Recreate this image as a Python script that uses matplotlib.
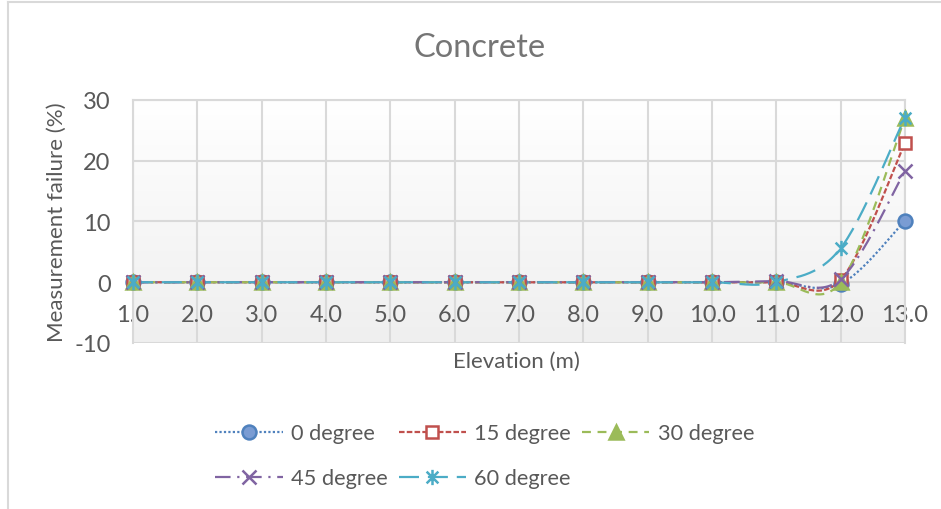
import numpy as np
from matplotlib import pyplot as plt
from matplotlib.path import Path
from matplotlib.lines import Line2D
from matplotlib.colors import LinearSegmentedColormap

elevation = [1.0, 2.0, 3.0, 4.0, 5.0, 6.0, 7.0, 8.0, 9.0, 10.0, 11.0, 12.0, 13.0]
deg0 = [0, 0, 0, 0, 0, 0, 0, 0, 0, 0, 0, -0.3, 10.1]
deg15 = [0, 0, 0, 0, 0, 0, 0, 0, 0, 0, 0, 0.4, 22.9]
deg30 = [0, 0, 0, 0, 0, 0, 0, 0, 0, 0, 0, 0.0, 27.0]
deg45 = [0, 0, 0, 0, 0, 0, 0, 0, 0, 0, 0.2, 0.5, 18.3]
deg60 = [0, 0, 0, 0, 0, 0, 0, 0, 0, 0, 0, 5.6, 27.1]
series_names = ["0 degree", "15 degree", "30 degree", "45 degree", "60 degree"]
x_tick_labels = ["%.1f" % v for v in elevation]
y_ticks = [-10, 0, 10, 20, 30]

TEXT = "#595959"
GRID = "#D9D9D9"


def smooth(x, y, steps=30):
    """excel-like smoothed line: cubic bezier between points"""
    x = np.asarray(x, float)
    y = np.asarray(y, float)
    px = np.concatenate([[x[0]], x, [x[-1]]])
    py = np.concatenate([[y[0]], y, [y[-1]]])
    t = np.linspace(0, 1, steps)[:, None]
    xs, ys = [], []
    for i in range(1, len(px) - 2):
        p0 = np.array([px[i], py[i]])
        p3 = np.array([px[i + 1], py[i + 1]])
        p1 = p0 + (np.array([px[i + 1], py[i + 1]]) - np.array([px[i - 1], py[i - 1]])) / 6
        p2 = p3 - (np.array([px[i + 2], py[i + 2]]) - np.array([px[i], py[i]])) / 6
        b = ((1 - t) ** 3) * p0 + 3 * ((1 - t) ** 2) * t * p1 + 3 * (1 - t) * t ** 2 * p2 + t ** 3 * p3
        xs.append(b[:, 0])
        ys.append(b[:, 1])
    return np.concatenate(xs), np.concatenate(ys)


# asterisk marker: an x with a vertical stroke
star = Path([(-1, -1), (1, 1), (-1, 1), (1, -1), (0, -1.3), (0, 1.3)],
            [Path.MOVETO, Path.LINETO, Path.MOVETO, Path.LINETO, Path.MOVETO, Path.LINETO])

styles = [
    dict(color="#4F81BD", ls=(0, (1, 1)), marker="o", mfc="#7A9CD3", mec="#4F81BD", ms=10),
    dict(color="#C0504D", ls=(0, (2.5, 1)), marker="s", mfc="white", mec="#C0504D", ms=9),
    dict(color="#9BBB59", ls=(0, (4, 3)), marker="^", mfc="#9BBB59", mec="#9BBB59", ms=10),
    dict(color="#8064A2", ls=(0, (7, 3, 1, 3)), marker="x", mfc="none", mec="#8064A2", ms=10),
    dict(color="#4BACC6", ls=(0, (9, 4)), marker=star, mfc="none", mec="#4BACC6", ms=11),
]


def main():
    plt.rcParams["font.family"] = ["Lato", "DejaVu Sans"]
    fig = plt.figure(figsize=(9.41, 5.10), dpi=100)
    ax = fig.add_axes([0.1413, 0.3255, 0.8204, 0.4765])

    # soft white-to-grey fill of the plot area
    grad = np.linspace(1.0, 0.0, 256)[:, None]
    ax.imshow(grad, extent=[0, 1, 0, 1], transform=ax.transAxes, aspect="auto",
              cmap=LinearSegmentedColormap.from_list("bg", ["#EFEFEF", "#FFFFFF"]), zorder=0)

    handles = []
    for vals, name, st in zip([deg0, deg15, deg30, deg45, deg60], series_names, styles):
        sx, sy = smooth(elevation, vals)
        ax.plot(sx, sy, color=st["color"], ls=st["ls"], lw=1.6, zorder=3, clip_on=False)
        ax.plot(elevation, vals, ls="none", marker=st["marker"], mfc=st["mfc"],
                mec=st["mec"], ms=st["ms"], mew=1.8, zorder=4, clip_on=False)
        handles.append(Line2D([], [], color=st["color"], ls=st["ls"], lw=1.6,
                              marker=st["marker"], mfc=st["mfc"], mec=st["mec"],
                              ms=st["ms"], mew=1.8))

    ax.set_xlim(1, 13)
    ax.set_ylim(-10, 30)
    ax.set_xticks(elevation)
    ax.set_xticklabels(x_tick_labels)
    ax.set_yticks(y_ticks)
    ax.set_yticklabels([str(v) for v in y_ticks])
    ax.grid(True, color=GRID, lw=1.5, zorder=1)
    ax.set_axisbelow(True)
    for s in ax.spines.values():
        s.set_color(GRID)
        s.set_linewidth(1.5)
    ax.spines["bottom"].set_position(("data", 0))
    ax.spines["bottom"].set_visible(False)
    ax.tick_params(axis="x", length=0, pad=16, labelsize=17, labelcolor=TEXT)
    ax.tick_params(axis="y", length=0, pad=16, labelsize=17, labelcolor=TEXT)

    fig.text(0.51, 0.905, "Concrete", ha="center", va="center", fontsize=23.5, color="#757575")
    fig.text(0.0606, 0.565, "Measurement failure (%)", rotation=90, ha="center",
             va="center", fontsize=16, color=TEXT)
    fig.text(0.549, 0.290, "Elevation (m)", ha="center", va="center", fontsize=16, color=TEXT)

    # row-major order for a 3 column legend
    order = [0, 3, 1, 4, 2]
    fig.legend([handles[i] for i in order], [series_names[i] for i in order],
               loc="center", bbox_to_anchor=(0.515, 0.104), ncol=3, frameon=False,
               fontsize=15.7, labelcolor=TEXT, handlelength=3.1, handletextpad=0.37,
               columnspacing=0.5, labelspacing=1.15)

    # outer chart border
    fig.add_artist(Line2D([8 / 941, 1], [1 - 3 / 510, 1 - 3 / 510], color=GRID, lw=1.5))
    fig.add_artist(Line2D([8 / 941, 8 / 941], [0, 1 - 3 / 510], color=GRID, lw=1.5))

    fig.savefig("out.png", dpi=100)


if __name__ == "__main__":
    main()
